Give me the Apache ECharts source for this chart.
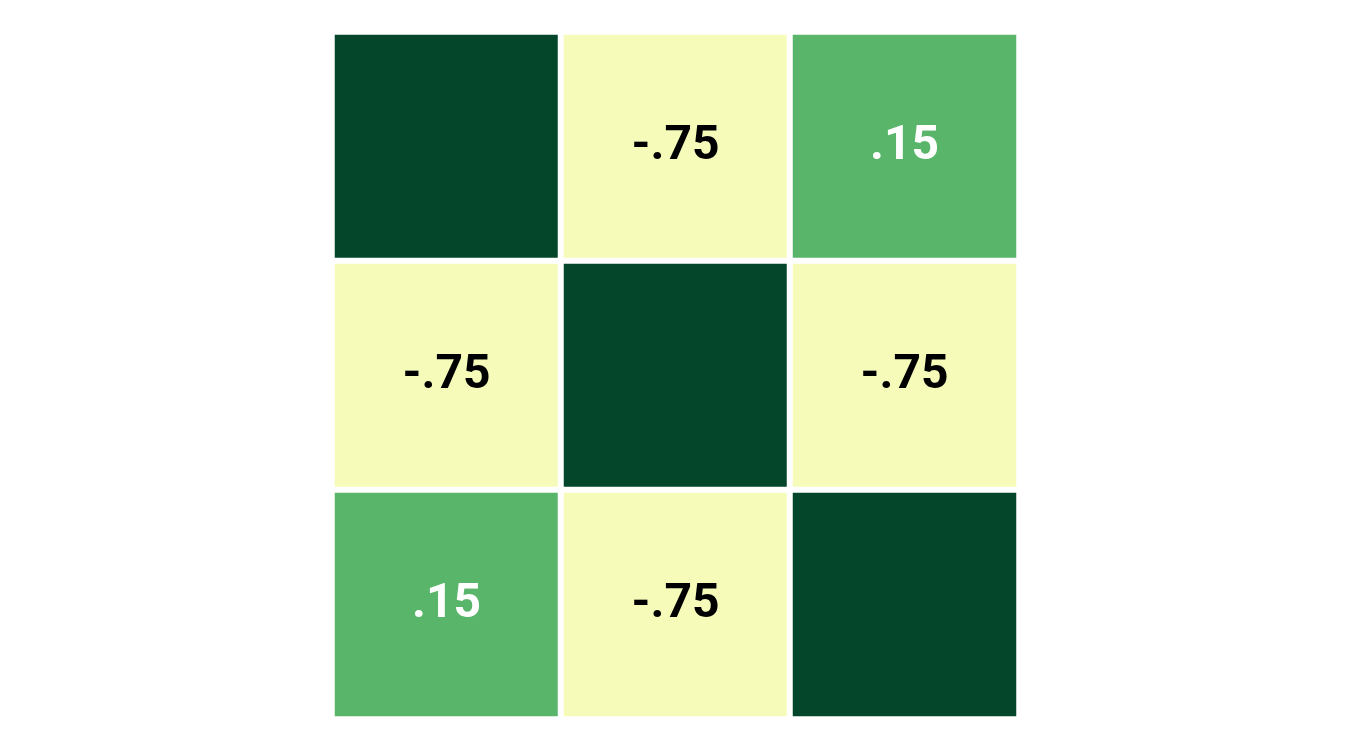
<!DOCTYPE html>
<html>
<head>
	<meta charset="UTF-8">
	<title></title>
	<style>html,body{margin:0;padding:0;background:#fff;}</style>
</head>
<body>
	<div id="main" style="width:1350px;height:750px;"></div>
</body>
<script src="https://cdn.jsdelivr.net/npm/echarts@6/dist/echarts.min.js"></script>
<script>
var chart = echarts.init(document.getElementById('main'));

// 行列名
var xCats = ['a', 'b', 'c'];
var yCats = ['c', 'b', 'a'];
// 相关系数矩阵 (从上到下每行)
var rowTop = [1, -0.75, 0.15];
var rowMid = [-0.75, 1, -0.75];
var rowBottom = [0.15, -0.75, 1];

var rows = [rowTop, rowMid, rowBottom];
var data = [];
for (var r = 0; r < rows.length; r++) {
    for (var c = 0; c < rows[r].length; c++) {
        // y 轴从下往上, 顶行 index 2
        data.push([c, 2 - r, rows[r][c]]);
    }
}

var fmt = function (v) {
    if (v === 1) return '';
    var s = Math.abs(v).toFixed(2).replace(/^0/, '');
    return (v < 0 ? '-' : '') + s;
};

var option = {
    animation: false,
    grid: { left: 332, top: 32, width: 687, height: 687 },
    xAxis: { type: 'category', data: xCats, show: false },
    yAxis: { type: 'category', data: yCats, show: false },
    visualMap: {
        show: false,
        type: 'piecewise',
        dimension: 2,
        pieces: [
            { lt: -0.5, color: '#f6fbba' },
            { gte: -0.5, lt: 0.5, color: '#59b56a' },
            { gte: 0.5, color: '#03462a' }
        ]
    },
    series: [{
        type: 'heatmap',
        data: data,
        itemStyle: { borderColor: '#ffffff', borderWidth: 6 },
        label: {
            show: true,
            fontFamily: 'Roboto',
            fontWeight: 'bold',
            fontSize: 48,
            formatter: function (p) { return fmt(p.value[2]); },
            color: '#000'
        },
        emphasis: { disabled: true }
    }]
};

// .15 用白字
option.series[0].data = data.map(function (d) {
    if (d[2] > -0.5 && d[2] < 0.5) {
        return { value: d, label: { color: '#ffffff' } };
    }
    return d;
});

chart.setOption(option);
</script>
</html>
